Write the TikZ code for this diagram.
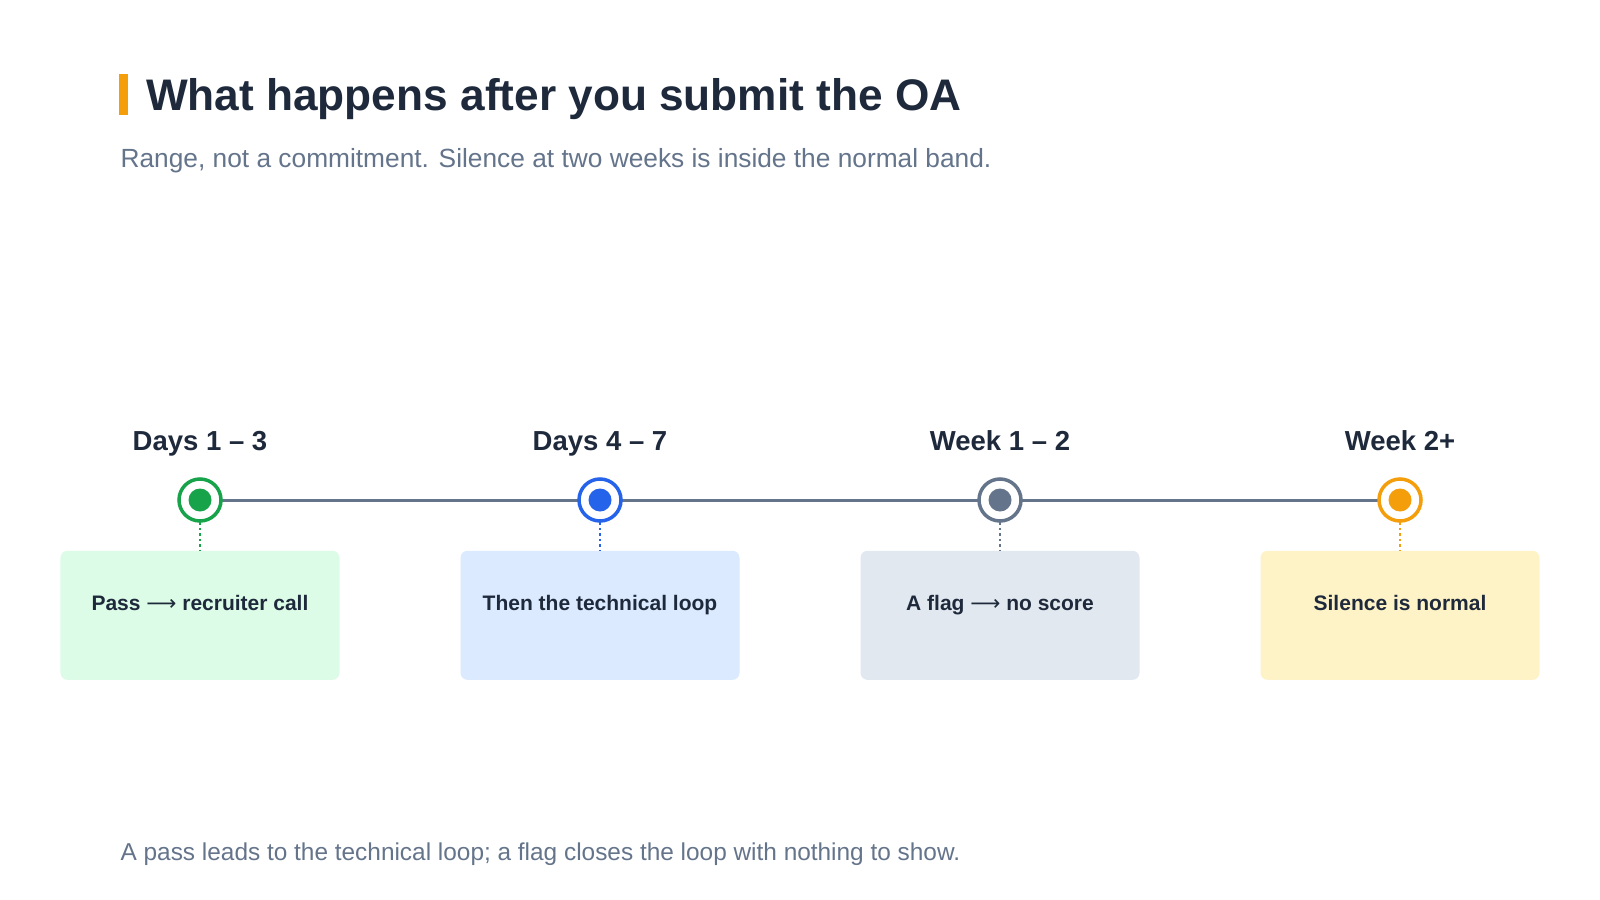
\documentclass[tikz,border=0pt]{standalone}
\usepackage{fontspec}
\setmainfont{Liberation Sans}
\newfontfamily\symf{DejaVu Sans}
\newcommand{\rarr}{{\symf\mdseries\char"27F6}}
\definecolor{ink}{HTML}{1E293B}
\definecolor{sub}{HTML}{64748B}
\definecolor{cg}{HTML}{16A34A}\definecolor{fg}{HTML}{DCFCE7}
\definecolor{cb}{HTML}{2563EB}\definecolor{fb}{HTML}{DBEAFE}
\definecolor{cs}{HTML}{64748B}\definecolor{fs}{HTML}{E2E8F0}
\definecolor{co}{HTML}{F59E0B}\definecolor{fo}{HTML}{FEF3C7}
\begin{document}
\begin{tikzpicture}[x=1.0204pt,y=-1.0204pt,
  ring/.style={circle,draw=#1,line width=3.5pt,fill=white,minimum size=42pt,inner sep=0pt},
  dot/.style={circle,fill=#1,minimum size=23pt,inner sep=0pt},
  box/.style={rounded corners=7pt,fill=#1,minimum width=279pt,minimum height=129pt,inner sep=0pt},
  lab/.style={font=\bfseries\fontsize{27.5}{32}\selectfont,text=ink},
  btxt/.style={font=\bfseries\fontsize{21}{26}\selectfont,text=ink}]
\useasboundingbox[fill=white] (0,0) rectangle (1568,882);
\fill[co] (117,73) rectangle (125,113);
\node[anchor=base west,font=\bfseries\fontsize{44.2}{50}\selectfont,text=ink,inner sep=0] (title) at (143,108) {What happens after you submit the OA};
\node[anchor=base west,font=\fontsize{26.3}{30}\selectfont,text=sub,inner sep=0] (subt) at (118,164) {Range, not a commitment. Silence at two weeks is inside the normal band.};
\node[anchor=base west,font=\fontsize{24.4}{30}\selectfont,text=sub,inner sep=0] (foot) at (118,843) {A pass leads to the technical loop; a flag closes the loop with nothing to show.};
\foreach \i/\x/\c/\f/\l/\t in {1/196/cg/fg/Days 1 -- 3/Pass \rarr{} recruiter call,2/588/cb/fb/Days 4 -- 7/Then the technical loop,3/980/cs/fs/Week 1 -- 2/A flag \rarr{} no score,4/1372/co/fo/Week 2+/Silence is normal}{
  \node[box=\f] (b\i) at (\x,603) {};
  \node[btxt,anchor=base] (t\i) at (\x,598) {\t};
  \node[lab,anchor=base] (l\i) at (\x,441) {\l};
  \coordinate (p\i) at (\x,490);
}
\draw[sub,line width=3pt] (p1) -- (p4);
\foreach \i/\c in {1/cg,2/cb,3/cs,4/co}{
  \draw[\c,line width=2.5pt,dash pattern=on 2.5pt off 3pt] (p\i) ++(0,22) -- (b\i.north);
  \node[ring=\c] (r\i) at (p\i) {};
  \node[dot=\c] (d\i) at (p\i) {};
}
\end{tikzpicture}
\end{document}
